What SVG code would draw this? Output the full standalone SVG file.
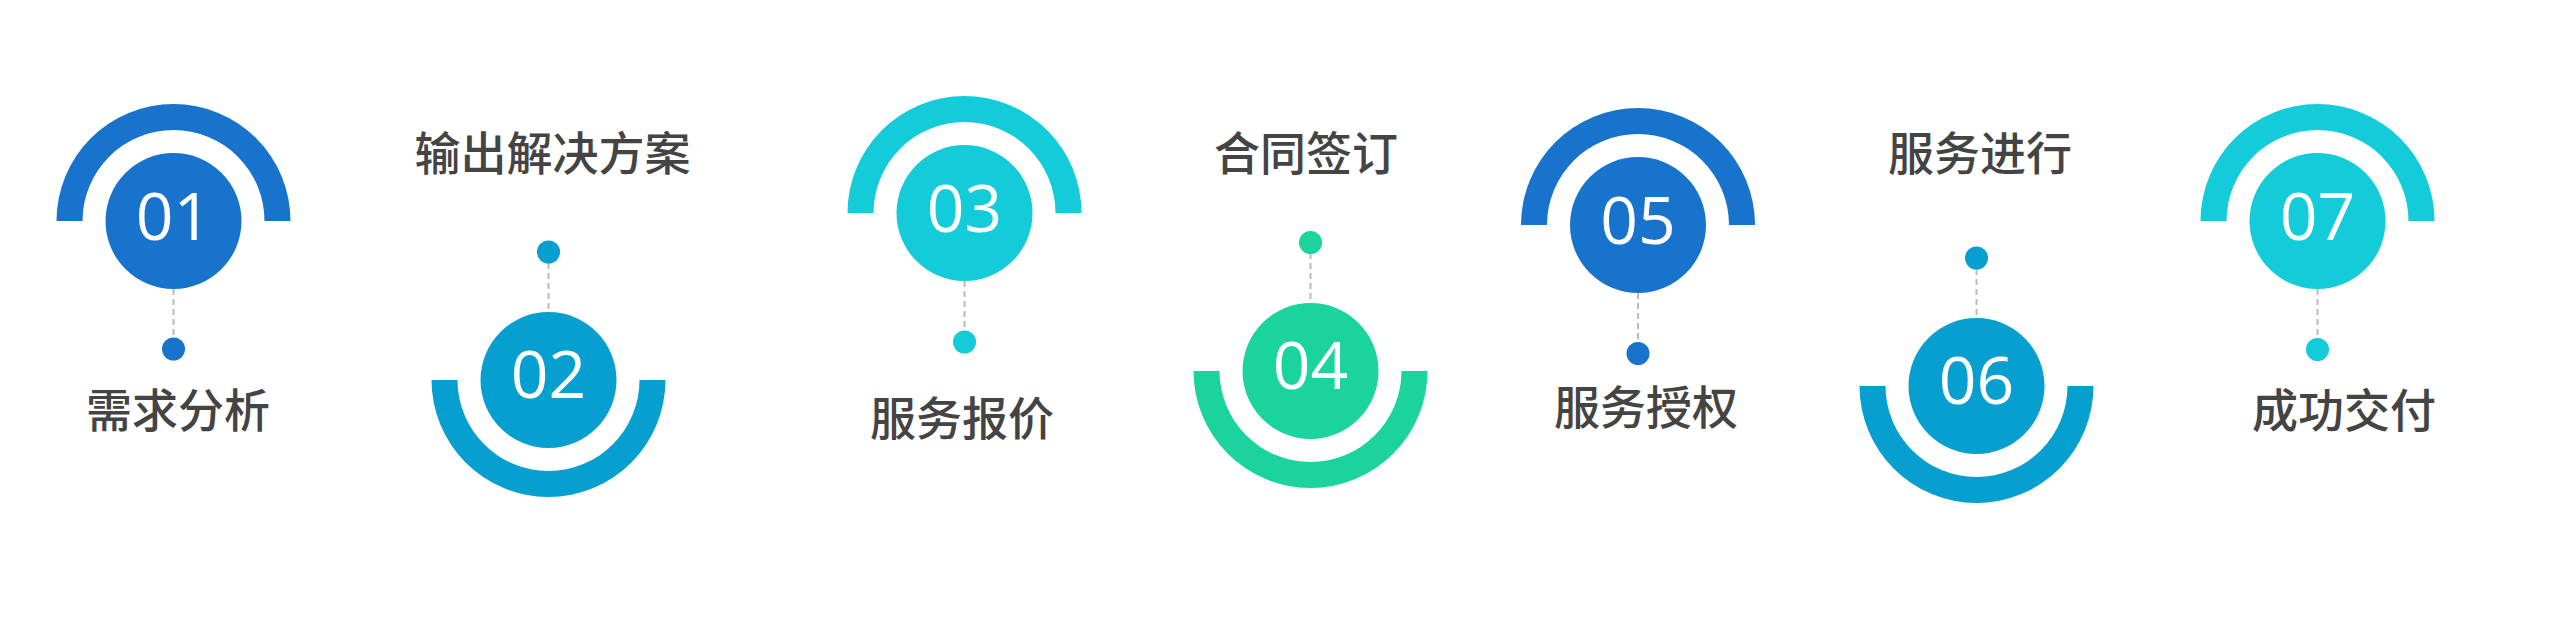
<svg xmlns="http://www.w3.org/2000/svg" width="2559" height="643" viewBox="0 0 2559 643">
<style>
.num{font-family:"Open Sans","Noto Sans",sans-serif;font-size:66px;fill:#fff;text-anchor:middle}
.lbl{font-family:"Noto Sans CJK SC","Noto Sans",sans-serif;font-size:46px;font-weight:500;fill:#444;text-anchor:middle}
.dash{stroke:#bbbbbb;stroke-width:2;stroke-dasharray:6 4;fill:none}
.c1{fill:#1873cc}.c2{fill:#079fcf}.c3{fill:#14cbd9}.c4{fill:#1bd39d}
</style>
<rect width="2559" height="643" fill="#fff"/>
<g id="connectors">
<line class="dash" x1="173.5" y1="289" x2="173.5" y2="338"/>
<line class="dash" x1="548.5" y1="263" x2="548.5" y2="312"/>
<line class="dash" x1="964.5" y1="281" x2="964.5" y2="331"/>
<line class="dash" x1="1310.5" y1="253" x2="1310.5" y2="303"/>
<line class="dash" x1="1638" y1="293" x2="1638" y2="342"/>
<line class="dash" x1="1976.5" y1="269" x2="1976.5" y2="318"/>
<line class="dash" x1="2317.5" y1="289" x2="2317.5" y2="338"/>
</g>
<g id="node1">
<path class="c1" d="M56.5,221 A117,117 0 0 1 290.5,221 L264.5,221 A91,91 0 0 0 82.5,221 Z"/>
<circle class="c1" cx="173.5" cy="221" r="68"/>
<text class="num" x="173.5" y="240">01</text>
<circle class="c1" cx="173.5" cy="349" r="11.5"/>
<text class="lbl" x="178" y="427">需求分析</text>
</g>
<g id="node2">
<path class="c2" d="M431.5,380 A117,117 0 0 0 665.5,380 L639.5,380 A91,91 0 0 1 457.5,380 Z"/>
<circle class="c2" cx="548.5" cy="380" r="68"/>
<text class="num" x="548.5" y="398">02</text>
<circle class="c2" cx="548.5" cy="252" r="11.5"/>
<text class="lbl" x="552.5" y="170">输出解决方案</text>
</g>
<g id="node3">
<path class="c3" d="M847.5,213 A117,117 0 0 1 1081.5,213 L1055.5,213 A91,91 0 0 0 873.5,213 Z"/>
<circle class="c3" cx="964.5" cy="213" r="68"/>
<text class="num" x="964.5" y="232">03</text>
<circle class="c3" cx="964.5" cy="342" r="11.5"/>
<text class="lbl" x="962" y="435">服务报价</text>
</g>
<g id="node4">
<path class="c4" d="M1193.5,371 A117,117 0 0 0 1427.5,371 L1401.5,371 A91,91 0 0 1 1219.5,371 Z"/>
<circle class="c4" cx="1310.5" cy="371" r="68"/>
<text class="num" x="1310.5" y="389">04</text>
<circle class="c4" cx="1310.5" cy="242.5" r="11.5"/>
<text class="lbl" x="1306" y="170">合同签订</text>
</g>
<g id="node5">
<path class="c1" d="M1521,225 A117,117 0 0 1 1755,225 L1729,225 A91,91 0 0 0 1547,225 Z"/>
<circle class="c1" cx="1638" cy="225" r="68"/>
<text class="num" x="1638" y="244">05</text>
<circle class="c1" cx="1638" cy="353.5" r="11.5"/>
<text class="lbl" x="1646" y="424">服务授权</text>
</g>
<g id="node6">
<path class="c2" d="M1859.5,386 A117,117 0 0 0 2093.5,386 L2067.5,386 A91,91 0 0 1 1885.5,386 Z"/>
<circle class="c2" cx="1976.5" cy="386" r="68"/>
<text class="num" x="1976.5" y="404">06</text>
<circle class="c2" cx="1976.5" cy="258" r="11.5"/>
<text class="lbl" x="1980" y="170">服务进行</text>
</g>
<g id="node7">
<path class="c3" d="M2200.5,221 A117,117 0 0 1 2434.5,221 L2408.5,221 A91,91 0 0 0 2226.5,221 Z"/>
<circle class="c3" cx="2317.5" cy="221" r="68"/>
<text class="num" x="2317.5" y="240">07</text>
<circle class="c3" cx="2317.5" cy="349.5" r="11.5"/>
<text class="lbl" x="2344" y="427">成功交付</text>
</g>
</svg>
